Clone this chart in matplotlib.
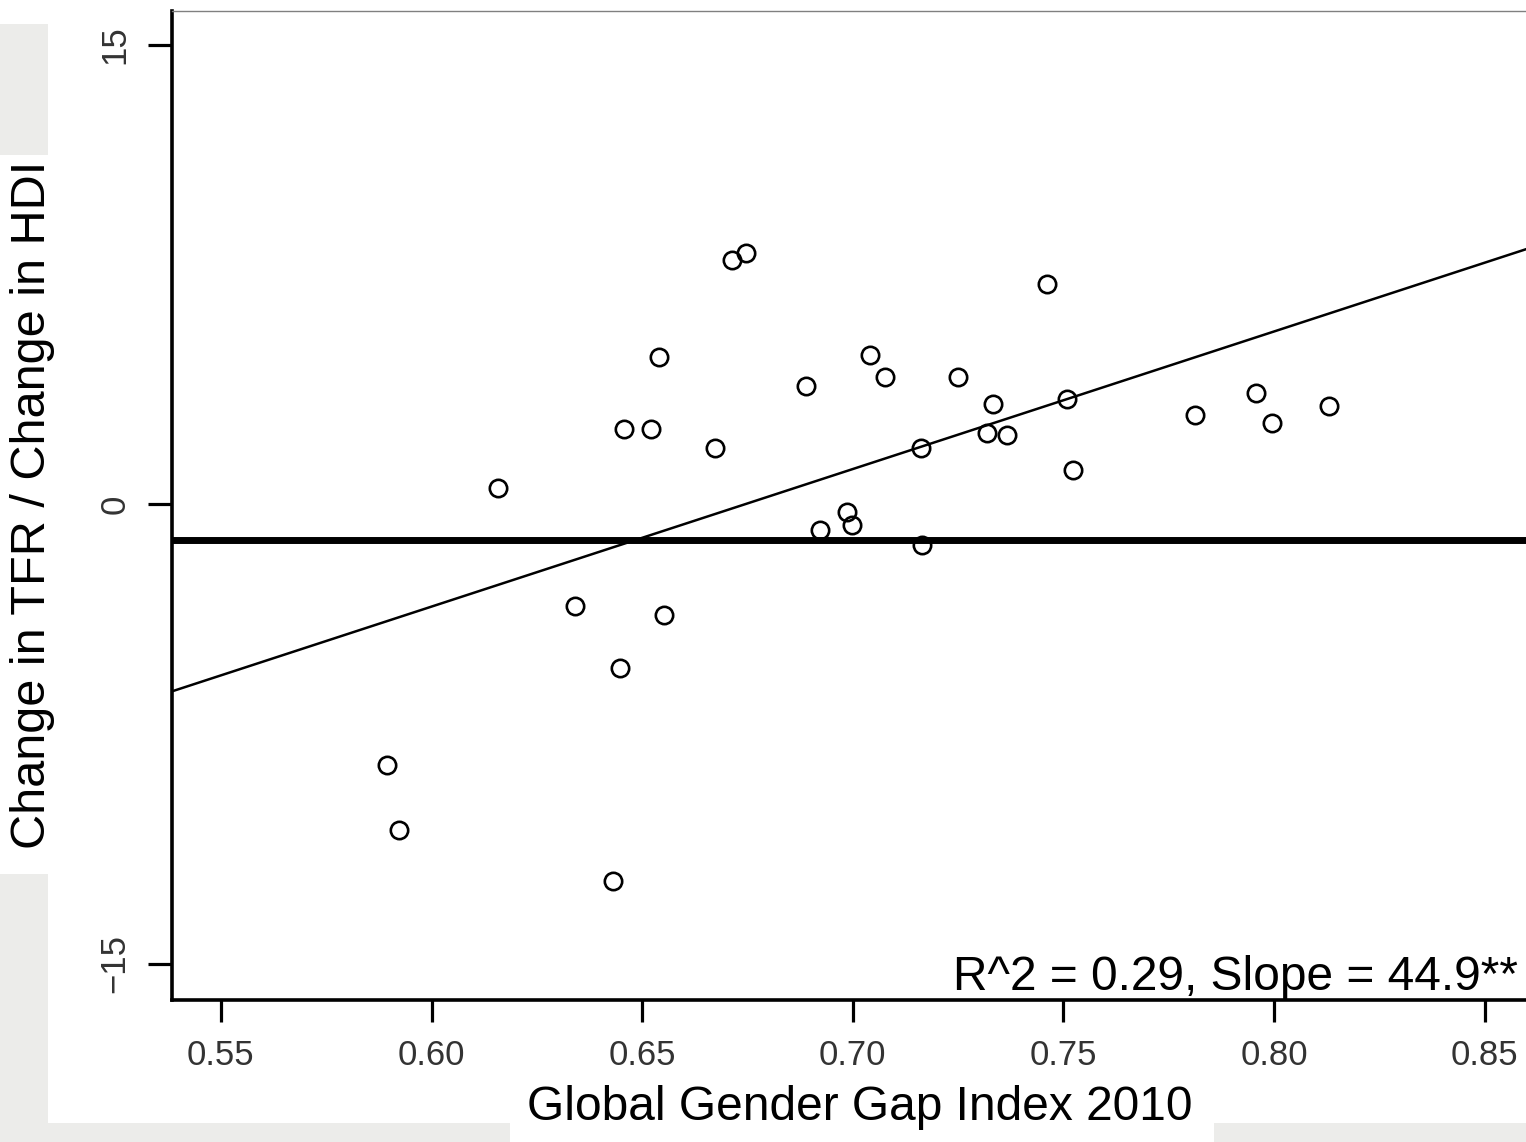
# ============================
# TFR / HDI vs Global Gender Gap Index 2010
# ============================
import matplotlib
matplotlib.use('Agg')
import matplotlib.pyplot as plt
import numpy as np
from matplotlib.patches import Rectangle

# === 1. DATOS ===
gggi_2010 = [0.5895, 0.5922, 0.6157, 0.6341, 0.6430, 0.6447, 0.6457, 0.6521,
             0.6541, 0.6551, 0.6673, 0.6714, 0.6746, 0.6888, 0.6923, 0.6986,
             0.6997, 0.7040, 0.7077, 0.7162, 0.7165, 0.7249, 0.7318, 0.7334,
             0.7365, 0.7460, 0.7508, 0.7523, 0.7813, 0.7958, 0.7995, 0.8131]
tfr_hdi = [-8.52, -10.63, 0.53, -3.31, -12.31, -5.34, 2.47, 2.47,
           4.80, -3.60, 1.84, 7.98, 8.19, 3.85, -0.84, -0.25,
           -0.69, 4.87, 4.16, 1.84, -1.33, 4.16, 2.34, 3.28,
           2.26, 7.19, 3.44, 1.12, 2.93, 3.64, 2.64, 3.22]

fit_intercept = -30.28
fit_slope = 44.9
ref_level = -1.17

x_ticks = [0.55, 0.60, 0.65, 0.70, 0.75, 0.80, 0.85]
y_ticks = [-15, 0, 15]
y_tick_labels = ['\u221215', '0', '15']
annotation = "R^2 = 0.29, Slope = 44.9**"

# === 2. FIGURA ===
plt.rcParams['font.family'] = ['Liberation Sans', 'DejaVu Sans']
W, H = 1526, 1142
fig = plt.figure(figsize=(W / 100, H / 100), dpi=100)
fig.patch.set_facecolor('white')

# Fondo gris de la diapositiva (zonas visibles alrededor)
slide_gray = '#ececea'
for (x0, y0, x1, y1) in [(0, 24, 48, 155), (0, 874, 48, 1123),
                         (0, 1123, 510, 1142), (1214, 1123, 1526, 1142)]:
    fig.patches.append(Rectangle((x0 / W, 1 - y1 / H), (x1 - x0) / W, (y1 - y0) / H,
                                 transform=fig.transFigure, facecolor=slide_gray,
                                 edgecolor='none', zorder=0))

ax = fig.add_axes([172 / W, 1 - 1000 / H, 1 - 172 / W, (1000 - 11) / H])
ax.set_xlim(0.5384, 0.8598)
ax.set_ylim(-16.18, 16.1)

# Puntos
ax.plot(gggi_2010, tfr_hdi, linestyle='none', marker='o', markersize=12.5,
        markerfacecolor='none', markeredgecolor='black', markeredgewidth=1.9, zorder=3)

# Recta de regresión
xs = np.array(ax.get_xlim())
ax.plot(xs, fit_intercept + fit_slope * xs, color='black', linewidth=1.8, zorder=2)

# Línea de referencia gruesa
ax.axhline(ref_level, color='black', linewidth=5, zorder=2)

# Ejes
for side in ['left', 'bottom']:
    ax.spines[side].set_linewidth(2.6)
    ax.spines[side].set_color('black')
ax.spines['right'].set_visible(False)
ax.spines['top'].set_linewidth(1.0)
ax.spines['top'].set_color('#808080')

ax.set_xticks(x_ticks)
ax.set_xticklabels([f'{v:.2f}' for v in x_ticks])
ax.set_yticks(y_ticks)
ax.set_yticklabels(y_tick_labels, rotation=90, va='center')
ax.tick_params(axis='x', length=16, width=2.3, pad=12, labelsize=25, labelcolor='#333333')
ax.tick_params(axis='y', length=17, width=2.3, pad=12, labelsize=25, labelcolor='#333333')

# Texto de anotación
fig.text(1518 / W, 1 - 990 / H, annotation, ha='right', va='baseline',
         fontsize=34.5, color='black', zorder=5)

# Etiquetas de ejes
fig.text(33 / W, 1 - 505 / H, 'Change in TFR / Change in HDI', rotation=90,
         ha='center', va='center', fontsize=35, color='black')
fig.text(860 / W, 1 - 1107 / H, 'Global Gender Gap Index 2010',
         ha='center', va='center', fontsize=34.5, color='black')

fig.savefig('out.png', dpi=100)
